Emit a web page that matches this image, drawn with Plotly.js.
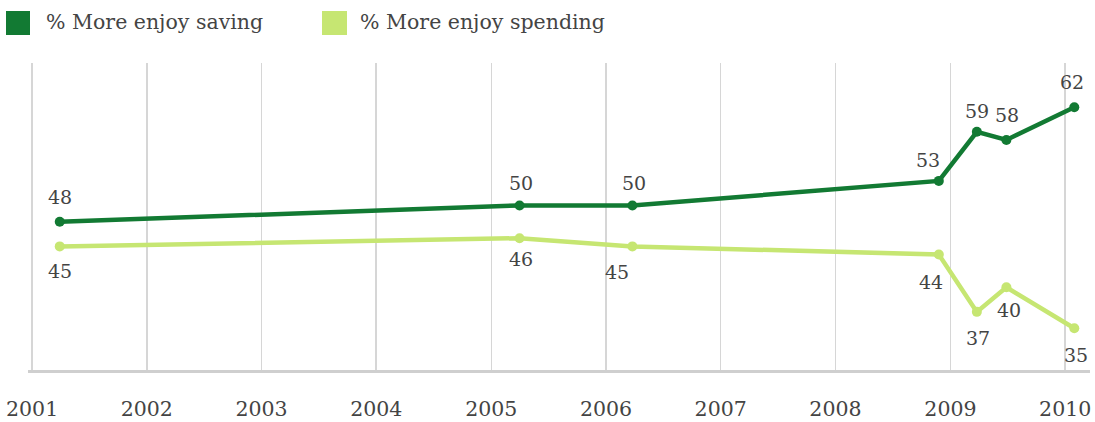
<!DOCTYPE html>
<html>
<head>
<meta charset="utf-8">
<script src="https://cdn.plot.ly/plotly-3.0.1.min.js"></script>
<style>html,body{margin:0;padding:0;background:#fff;}#chart{width:1095px;height:422px;}</style>
</head>
<body>
<div id="chart"></div>
<script>
// ---- data ----
const surveyDates = ['2001-03-30','2005-04-01','2006-03-26','2008-11-25','2009-03-26','2009-06-28','2010-01-30'];
const savingValues = [48, 50, 50, 53, 59, 58, 62];
const spendingValues = [45, 46, 45, 44, 37, 40, 35];
const seriesNames = ['% More enjoy saving', '% More enjoy spending'];
const yearTicks = ['2001','2002','2003','2004','2005','2006','2007','2008','2009','2010'];

// ---- styling (label offsets in px) ----
const savingLabelDx = [0, 1, 2, -11, 0, 1, -2];
const savingLabelDy = [25, 22, 22, 21, 21, 25, 25];
const spendingLabelDx = [0, 1, -15, -8, 1, 3, 2];
const spendingLabelDy = [-25, -21, -26, -27, -26, -23, -27];

const darkGreen = '#127a33';
const lightGreen = '#c6e672';
const textColor = '#444444';
const serif = '"DejaVu Serif", "Liberation Serif", Georgia, serif';

const W = 1095, H = 422;
const M = {l: 28, r: 5, t: 63, b: 52};
const pw = W - M.l - M.r, ph = H - M.t - M.b;
const px2x = p => (p - M.l) / pw;
const px2y = p => (H - M.b - p) / ph;

const traces = [
  {x: surveyDates, y: savingValues, name: seriesNames[0], type: 'scatter', mode: 'lines+markers',
   line: {color: darkGreen, width: 4.5}, marker: {color: darkGreen, size: 10}, cliponaxis: false, hoverinfo: 'skip'},
  {x: surveyDates, y: spendingValues, name: seriesNames[1], type: 'scatter', mode: 'lines+markers',
   line: {color: lightGreen, width: 4.5}, marker: {color: lightGreen, size: 10}, cliponaxis: false, hoverinfo: 'skip'}
];

const annotations = [];
surveyDates.forEach((d, i) => {
  annotations.push({x: d, y: savingValues[i], xref: 'x', yref: 'y', text: String(savingValues[i]),
    showarrow: false, xshift: savingLabelDx[i], yshift: savingLabelDy[i],
    font: {family: serif, size: 19, color: textColor}});
  annotations.push({x: d, y: spendingValues[i], xref: 'x', yref: 'y', text: String(spendingValues[i]),
    showarrow: false, xshift: spendingLabelDx[i], yshift: spendingLabelDy[i],
    font: {family: serif, size: 19, color: textColor}});
});
// legend text
annotations.push({x: px2x(44), y: px2y(22), xref: 'paper', yref: 'paper', xanchor: 'left', yanchor: 'middle',
  text: seriesNames[0], showarrow: false, font: {family: serif, size: 20.5, color: textColor}});
annotations.push({x: px2x(358), y: px2y(22), xref: 'paper', yref: 'paper', xanchor: 'left', yanchor: 'middle',
  text: seriesNames[1], showarrow: false, font: {family: serif, size: 20.5, color: textColor}});

const shapes = [
  {type: 'rect', xref: 'paper', yref: 'paper', x0: px2x(6), x1: px2x(30), y0: px2y(35), y1: px2y(11),
   fillcolor: darkGreen, line: {width: 0}},
  {type: 'rect', xref: 'paper', yref: 'paper', x0: px2x(322), x1: px2x(347), y0: px2y(35), y1: px2y(11),
   fillcolor: lightGreen, line: {width: 0}}
];

const layout = {
  width: W, height: H,
  margin: M,
  paper_bgcolor: '#fff', plot_bgcolor: '#fff',
  showlegend: false,
  xaxis: {
    type: 'date',
    range: ['2000-12-19', '2010-03-21'],
    tickvals: yearTicks.map(y => y + '-01-01'),
    ticktext: yearTicks,
    showgrid: true, gridcolor: '#d6d6d6', gridwidth: 1.5,
    showline: true, linecolor: '#cfcfcf', linewidth: 3,
    ticks: 'outside', ticklen: 18, tickcolor: 'rgba(0,0,0,0)',
    tickfont: {family: serif, size: 20.5, color: textColor},
    zeroline: false, fixedrange: true
  },
  yaxis: {
    range: [29.9, 67.4],
    showgrid: false, showticklabels: false, zeroline: false, showline: false, ticks: '', fixedrange: true
  },
  annotations: annotations,
  shapes: shapes
};

Plotly.newPlot('chart', traces, layout, {staticPlot: true, displayModeBar: false});
</script>
</body>
</html>
